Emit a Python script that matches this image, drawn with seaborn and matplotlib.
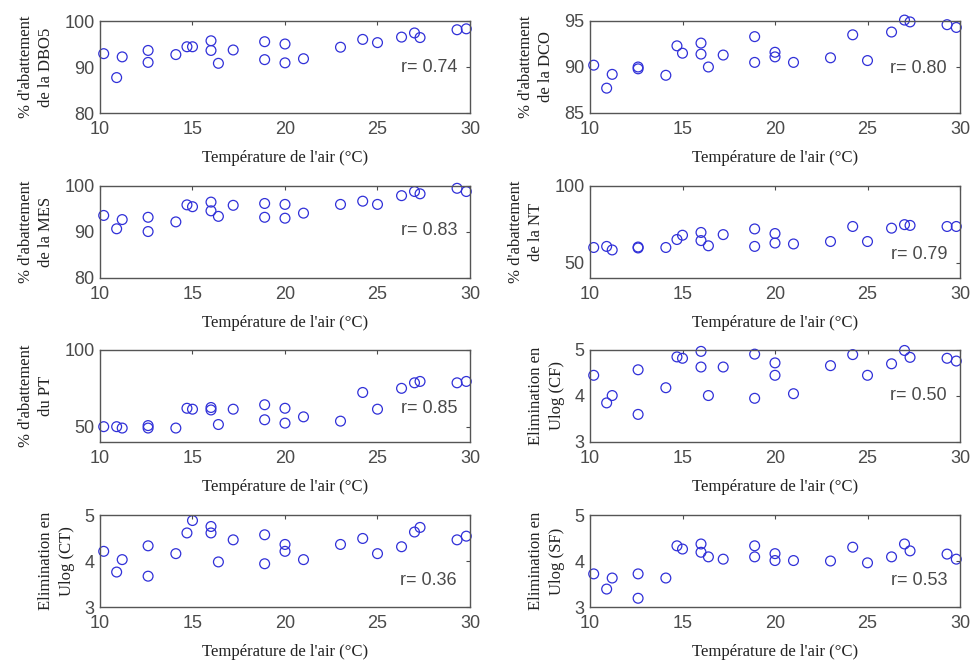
import matplotlib
matplotlib.use('Agg')
import matplotlib.pyplot as plt
import seaborn as sns
import pandas as pd

# air temperature (same samples in every panel)
temp = [10.2, 10.9, 11.2, 12.6, 12.6, 14.1, 14.7, 15.0, 16.0, 16.0, 16.4, 17.2, 18.9,
        18.9, 20.0, 20.0, 21.0, 23.0, 24.2, 25.0, 26.3, 27.0, 27.3, 29.3, 29.8]

dbo5 = [92.9, 87.7, 92.2, 93.6, 91.0, 92.7, 94.4, 94.4, 95.7, 93.6, 90.8, 93.7, 95.5,
        91.6, 95.0, 90.9, 91.8, 94.3, 96.0, 95.3, 96.5, 97.4, 96.4, 98.1, 98.3]
dco = [90.2, 87.7, 89.2, 90.0, 89.8, 89.1, 92.3, 91.5, 92.6, 91.4, 90.0, 91.3, 93.3,
       90.5, 91.6, 91.1, 90.5, 91.0, 93.5, 90.7, 93.8, 95.1, 94.9, 94.6, 94.3]
mes = [93.6, 90.7, 92.7, 93.2, 90.1, 92.2, 95.9, 95.5, 96.5, 94.6, 93.4, 95.8, 96.2,
       93.2, 96.0, 93.0, 94.1, 96.0, 96.7, 96.0, 97.9, 98.8, 98.3, 99.5, 98.8]
nt = [59.9, 60.6, 58.3, 60.2, 59.6, 59.9, 65.1, 67.9, 69.7, 64.4, 61.0, 68.3, 72.0,
      60.6, 69.0, 62.8, 62.2, 63.8, 73.6, 63.8, 72.5, 74.8, 74.3, 73.6, 73.6]
pt = [50.0, 50.0, 49.1, 50.7, 49.1, 49.1, 62.0, 61.4, 62.5, 60.9, 51.4, 61.4, 64.3,
      54.5, 62.0, 52.3, 56.4, 53.6, 72.3, 61.4, 75.0, 78.6, 79.5, 78.6, 79.5]
cf = [4.45, 3.85, 4.01, 4.57, 3.60, 4.18, 4.85, 4.82, 4.97, 4.63, 4.01, 4.63, 4.91,
      3.95, 4.72, 4.45, 4.05, 4.66, 4.90, 4.45, 4.70, 4.99, 4.84, 4.82, 4.76]
ct = [4.21, 3.76, 4.03, 4.33, 3.67, 4.16, 4.61, 4.88, 4.75, 4.61, 3.98, 4.46, 4.57,
      3.94, 4.36, 4.21, 4.03, 4.36, 4.49, 4.16, 4.31, 4.63, 4.73, 4.46, 4.54]
sf = [3.72, 3.39, 3.63, 3.72, 3.19, 3.63, 4.33, 4.26, 4.37, 4.19, 4.09, 4.04, 4.33,
      4.09, 4.16, 4.01, 4.01, 4.00, 4.30, 3.96, 4.09, 4.37, 4.22, 4.15, 4.04]

series = [dbo5, dco, mes, nt, pt, cf, ct, sf]
ylabels = ["% d'abattement\nde la DBO5", "% d'abattement\nde la DCO",
           "% d'abattement\nde la MES", "% d'abattement\nde la NT",
           "% d'abattement\ndu PT", "Elimination en\nUlog (CF)",
           "Elimination en\nUlog (CT)", "Elimination en\nUlog (SF)"]
ylims = [(80, 100), (85, 95), (80, 100), (40, 100), (40, 100), (3, 5), (3, 5), (3, 5)]
yticks = [[80, 90, 100], [85, 90, 95], [80, 90, 100], [50, 100], [50, 100],
          [3, 4, 5], [3, 4, 5], [3, 4, 5]]
r_labels = ['r= 0.74', 'r= 0.80', 'r= 0.83', 'r= 0.79', 'r= 0.85', 'r= 0.50', 'r= 0.36', 'r= 0.53']
r_ypos = [0.5, 0.48, 0.52, 0.26, 0.36, 0.5, 0.29, 0.29]

sns.set_style('white')
plt.rcParams['font.family'] = ['Liberation Sans Narrow', 'Liberation Sans', 'DejaVu Sans']

W, H = 975, 664
fig = plt.figure(figsize=(9.75, 6.64), dpi=100)
fig.patch.set_facecolor('white')

lefts = [100, 590]
tops = [21, 186, 350, 515]
aw, ah = 370, 92
gray = '#4a4a4a'

for k in range(8):
    row, col = k // 2, k % 2
    ax = fig.add_axes([lefts[col] / W, 1 - (tops[row] + ah) / H, aw / W, ah / H])
    df = pd.DataFrame({'t': temp, 'v': series[k]})
    sns.scatterplot(data=df, x='t', y='v', ax=ax, marker='o', s=50,
                    facecolor='none', edgecolor='#3030d8', linewidth=0.9,
                    clip_on=False, legend=False)
    ax.set_xlim(10, 30)
    ax.set_ylim(*ylims[k])
    ax.set_xticks([10, 15, 20, 25, 30])
    ax.set_yticks(yticks[k])
    ax.tick_params(direction='in', top=True, right=True, length=3, width=0.8,
                   colors=gray, labelsize=13)
    ax.tick_params(axis='x', pad=5.5)
    ax.tick_params(axis='y', pad=4)
    for sp in ax.spines.values():
        sp.set_color('#555555')
        sp.set_linewidth(1.0)
    ax.set_xlabel("Température de l'air (°C)", family='Liberation Serif',
                  fontsize=12, color='#222222', labelpad=9)
    ax.set_ylabel(ylabels[k], family='Liberation Serif', fontsize=12,
                  color='#222222', linespacing=1.4, labelpad=7)
    ax.text(0.965, r_ypos[k], r_labels[k], transform=ax.transAxes, ha='right',
            va='center', fontsize=13, color=gray)

fig.savefig('out.png', dpi=100, facecolor='white')
